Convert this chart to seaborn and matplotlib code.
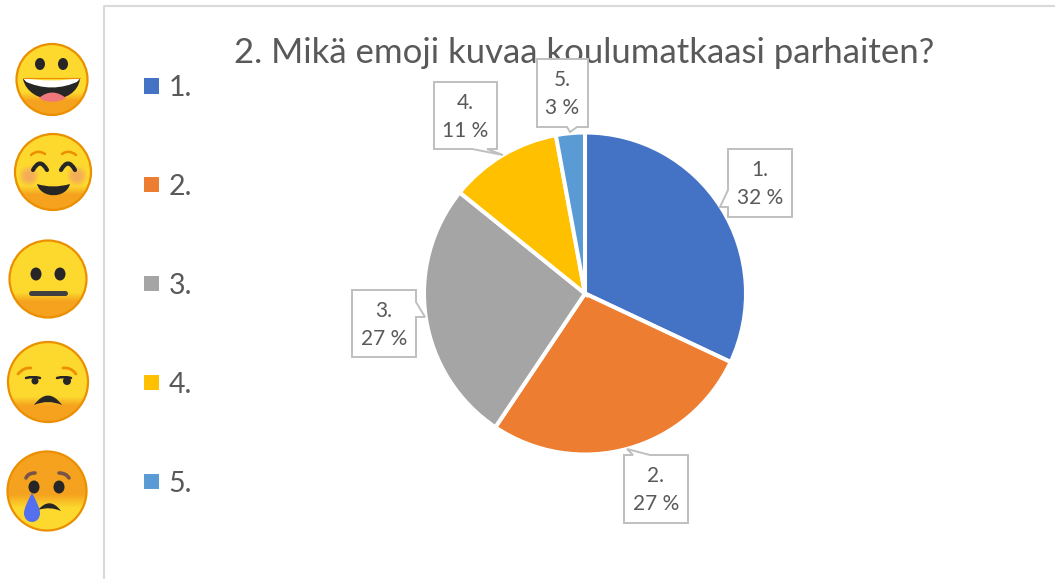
import numpy as np
import seaborn as sns
import matplotlib.pyplot as plt
from matplotlib.colors import LinearSegmentedColormap
from matplotlib.patches import Circle, Ellipse, PathPatch, Polygon
from matplotlib.path import Path

# Arvot luettu kuvasta
categories = ['1.', '2.', '3.', '4.', '5.']
shares = [32.0, 27.4, 26.4, 11.3, 2.9]
percent_labels = ['32 %', '27 %', '27 %', '11 %', '3 %']
colors = ['#4472C4', '#ED7D31', '#A5A5A5', '#FFC000', '#5B9BD5']
title = '2. Mikä emoji kuvaa koulumatkaasi parhaiten?'

W, H = 1055, 579
TEXT = '#595959'
BOX = '#BFBFBF'
DARK = '#262626'

sns.set_theme(style='white')
plt.rcParams['font.family'] = ['Lato', 'DejaVu Sans']

fig = plt.figure(figsize=(W / 100, H / 100), dpi=100)

# Piirakka: keskipiste (585, 293.5), säde 161 px
cx, cy, r = 585, 293.5, 161
ax = fig.add_axes([(cx - r) / W, 1 - (cy + r) / H, 2 * r / W, 2 * r / H])
wedges, _ = ax.pie(shares, colors=colors, startangle=90, counterclock=False, radius=1,
                   wedgeprops={'edgecolor': 'white', 'linewidth': 2.9})
ax.set_xlim(-1, 1)
ax.set_ylim(-1, 1)

# Koko kuvan kattava akseli pikselikoordinaateilla (kehys, puhekuplat, emojit)
ov = fig.add_axes([0, 0, 1, 1], zorder=3)
ov.set_xlim(0, W)
ov.set_ylim(H, 0)
ov.axis('off')
ov.patch.set_alpha(0)

ov.plot([104, 104, W], [H, 6, 6], color='#D9D9D9', lw=1.5, zorder=1)
ov.text(584, 53, title, color=TEXT, fontsize=25, ha='center', va='center', zorder=2)

# Selite
fig.legend(wedges, categories, loc='upper left', bbox_to_anchor=(142 / W, 1 - 75 / H),
           frameon=False, fontsize=20.5, labelcolor=TEXT, labelspacing=2.56,
           handlelength=0.66, handleheight=0.66, handletextpad=0.27, borderpad=0, borderaxespad=0)

# Puhekuplat: laatikko ja hännän kolme pistettä
callouts = [
    ((728, 149, 792, 217), [(728, 190), (720, 207), (728, 207)]),
    ((624, 455, 688, 523), [(650, 455), (627, 449), (633, 455)]),
    ((352, 290, 416, 357), [(416, 302), (425, 317), (416, 317)]),
    ((434, 82, 497, 149), [(487, 149), (503, 155), (472, 149)]),
    ((537, 59, 588, 127), [(577, 127), (570, 132), (567, 127)]),
]


def side_rank(p, box):
    x0, y0, x1, y1 = box
    x, y = p
    if abs(y - y0) < 1e-6:
        return x - x0
    if abs(x - x1) < 1e-6:
        return (x1 - x0) + y - y0
    if abs(y - y1) < 1e-6:
        return (x1 - x0) + (y1 - y0) + x1 - x
    return 2 * (x1 - x0) + (y1 - y0) + y1 - y


for i, (box, tail) in enumerate(callouts):
    x0, y0, x1, y1 = box
    a, tip, b = tail
    if side_rank(a, box) > side_rank(b, box):
        a, b = b, a
    corners = [(x0, y0), (x1, y0), (x1, y1), (x0, y1)]
    ranks = [side_rank(c, box) for c in corners]
    start = [c for c, q in zip(corners, ranks) if q <= side_rank(a, box)]
    end = [c for c, q in zip(corners, ranks) if q > side_rank(a, box)]
    outline = start + [a, tip, b] + end
    ov.add_patch(Polygon(outline, closed=True, fc='white', ec=BOX, lw=1.4, zorder=4))
    ov.text((x0 + x1) / 2, y0 + 21, categories[i], color=TEXT, fontsize=15,
            ha='center', va='center', zorder=5)
    ov.text((x0 + x1) / 2, y0 + 49, percent_labels[i], color=TEXT, fontsize=15,
            ha='center', va='center', zorder=5)

# Emojit
YELLOW = '#FDD92E'
ORANGE = '#F5A21F'
RIM = '#EB8F00'
smile_cmap = LinearSegmentedColormap.from_list(
    'smile', [(0, YELLOW), (0.68, YELLOW), (0.8, ORANGE), (1, ORANGE)])
sad_cmap = LinearSegmentedColormap.from_list(
    'sad', [(0, ORANGE), (0.55, ORANGE), (0.72, YELLOW), (1, YELLOW)])


def face(x, y, rad, cmap):
    grad = np.linspace(0, 1, 256).reshape(-1, 1)
    im = ov.imshow(grad, cmap=cmap, extent=(x - rad, x + rad, y + rad, y - rad),
                   aspect='auto', zorder=6)
    im.set_clip_path(Circle((x, y), rad, transform=ov.transData))
    ov.add_patch(Circle((x, y), rad, fc='none', ec=RIM, lw=1.6, zorder=7))
    ov.set_xlim(0, W)
    ov.set_ylim(H, 0)


def arc(p0, ctrl, p1, color=DARK, lw=3.0):
    path = Path([p0, ctrl, p1], [Path.MOVETO, Path.CURVE3, Path.CURVE3])
    ov.add_patch(PathPatch(path, fc='none', ec=color, lw=lw, capstyle='round', zorder=8))


def eye(x, y, w, h):
    ov.add_patch(Ellipse((x, y), w, h, fc=DARK, ec='none', zorder=8))


def blob(points, codes, color, z=8):
    ov.add_patch(PathPatch(Path(points, codes), fc=color, ec='none', zorder=z))


def blush(x, y):
    for rad in [10, 8.5, 7, 5.5, 4]:
        ov.add_patch(Circle((x, y), rad, fc='#F08A7E', ec='none', alpha=0.15, zorder=7.5))


M, C3, C4 = Path.MOVETO, Path.CURVE3, Path.CURVE4

# 1: nauru
face(52, 79.5, 35.5, smile_cmap)
eye(40, 64, 10, 12)
eye(63, 64, 10, 12)
blob([(23, 79), (52, 84), (80, 79), (76, 106), (29, 106), (23, 79)],
     [M, C3, C3, C4, C4, C4], DARK)
blob([(23, 78), (52, 83), (80, 78), (70, 96), (35, 96), (23, 78)],
     [M, C3, C3, C4, C4, C4], 'white')
blob([(24, 81), (52, 94), (79, 81), (68, 99), (36, 99), (24, 81)],
     [M, C3, C3, C4, C4, C4], DARK, 9)
blob([(39, 98), (52, 87), (66, 98), (58, 103), (46, 103), (39, 98)],
     [M, C3, C3, C4, C4, C4], '#F0787A', 10)
ov.plot([23, 80], [78, 78], color=RIM, lw=0.8, zorder=9)

# 2: hymy ja posket
face(53, 172, 38, smile_cmap)
blush(29, 176)
blush(77, 176)
arc((31, 155), (38, 149), (45, 154), RIM, 1.8)
arc((62, 154), (69, 149), (76, 155), RIM, 1.8)
arc((33, 170), (40, 157), (47, 170))
arc((61, 170), (68, 157), (75, 170))
blob([(37, 184), (53, 189), (70, 184), (66, 199), (41, 199), (37, 184)],
     [M, C3, C3, C4, C4, C4], DARK)

# 3: neutraali
face(48, 279, 38.5, smile_cmap)
eye(36, 274, 11, 13)
eye(60, 274, 11, 13)
ov.plot([31, 65], [293, 293], color='#404040', lw=3.6, solid_capstyle='round', zorder=8)

# 4: tyytymätön
face(48, 382, 40, smile_cmap)
arc((18, 374), (24, 367), (31, 368), RIM, 2.0)
arc((63, 368), (71, 367), (76, 374), RIM, 2.0)
arc((26, 378), (33, 376), (40, 378), DARK, 1.8)
arc((57, 378), (64, 376), (71, 378), DARK, 1.8)
eye(35, 381, 7, 7)
eye(67, 381, 8, 8)
blob([(34, 405), (48, 386), (62, 405), (48, 399), (34, 405)],
     [M, C3, C3, C3, C3], DARK)

# 5: itku
face(47, 491, 39.5, sad_cmap)
arc((26, 478), (28, 473), (35, 473), '#795548', 2.6)
arc((59, 473), (66, 473), (69, 478), '#795548', 2.6)
eye(34, 487, 11, 13)
eye(59, 487, 11, 13)
blob([(38, 510), (50, 496), (61, 511), (50, 506), (38, 510)],
     [M, C3, C3, C3, C3], DARK)
blob([(32, 493), (24, 507), (24, 513), (24, 525), (40, 525), (40, 513), (40, 507), (32, 493)],
     [M, C3, C3, C4, C4, C4, C3, C3], '#5470F0', 9)

fig.savefig('out.png', dpi=100)
